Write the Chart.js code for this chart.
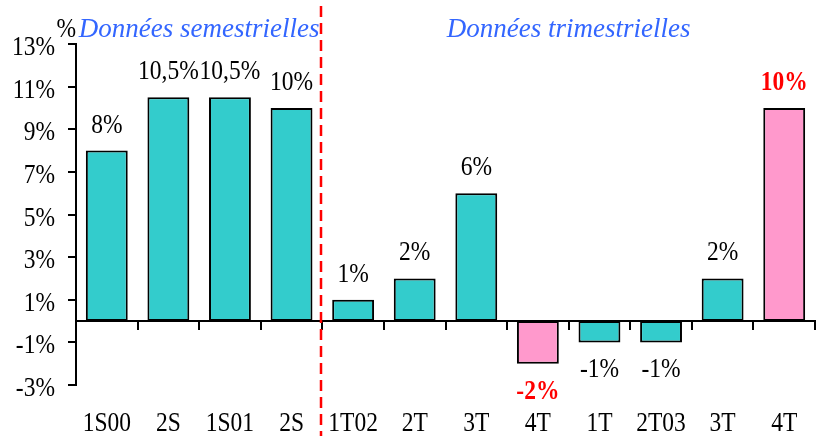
<!DOCTYPE html>
<html lang="fr">
<head>
<meta charset="UTF-8">
<title>Croissance</title>
<script src="https://cdn.jsdelivr.net/npm/chart.js"></script>
<style>
  html, body { margin: 0; padding: 0; background: #fff; }
  #wrap { width: 824px; height: 436px; }
</style>
</head>
<body>
<div id="wrap"><canvas id="chart"></canvas></div>
<script>
const categories = ['1S00', '2S', '1S01', '2S', '1T02', '2T', '3T', '4T', '1T', '2T03', '3T', '4T'];
const values = [8, 10.5, 10.5, 10, 1, 2, 6, -2, -1, -1, 2, 10];
const valueLabels = ['8%', '10,5%', '10,5%', '10%', '1%', '2%', '6%', '-2%', '-1%', '-1%', '2%', '10%'];
const yTicks = [-3, -1, 1, 3, 5, 7, 9, 11, 13];
const groupNames = ['Données semestrielles', 'Données trimestrielles'];
const groupStarts = [0, 4];   // index of first category in each group
const highlighted = [7, 11];  // bars shown in pink with red bold label

const SERIF = "'Liberation Serif', 'Times New Roman', serif";
const CYAN = '#33CCCC', PINK = '#FF99CC';

// the reference text is a bit narrow and tall, so squeeze it horizontally
function squeezed(ctx, text, x, y, font, color, align) {
  ctx.save();
  ctx.font = font;
  ctx.fillStyle = color;
  ctx.textAlign = align || 'center';
  ctx.textBaseline = 'alphabetic';
  ctx.translate(x, y);
  ctx.scale(0.87, 1);
  ctx.fillText(text, 0, 0);
  ctx.restore();
}

// zero line, separator, group titles and all texts
const overlay = {
  id: 'overlay',
  afterDatasetsDraw(chart) {
    const { ctx, chartArea: a, scales: { x, y } } = chart;
    const n = categories.length;
    const w = (a.right - a.left) / n;
    const y0 = y.getPixelForValue(0);
    const plain = '27px ' + SERIF;

    ctx.save();
    ctx.strokeStyle = '#000';
    ctx.lineWidth = 2;
    ctx.beginPath();
    ctx.moveTo(a.left, y0);
    ctx.lineTo(a.right + 1, y0);
    for (let i = 1; i <= n; i++) {
      const px = Math.round(a.left + i * w);
      ctx.moveTo(px, y0);
      ctx.lineTo(px, y0 + 9);
    }
    ctx.stroke();
    ctx.restore();

    // y tick labels
    yTicks.forEach(v => squeezed(ctx, v + '%', a.left - 21, y.getPixelForValue(v) + 11, plain, '#000', 'right'));

    // category labels
    categories.forEach((c, i) => squeezed(ctx, c, x.getPixelForValue(i), chart.height - 5, plain, '#000'));

    // value labels
    chart.getDatasetMeta(0).data.forEach((bar, i) => {
      const hi = highlighted.includes(i);
      const ty = values[i] >= 0 ? bar.y - 18 : bar.y + 35;
      squeezed(ctx, valueLabels[i], bar.x, ty, (hi ? 'bold ' : '') + plain, hi ? '#FF0000' : '#000');
    });

    // red dashed separator
    ctx.save();
    const sx = Math.round(a.left + groupStarts[1] * w) - 1;
    ctx.strokeStyle = '#FF0000';
    ctx.lineWidth = 2.5;
    ctx.setLineDash([11, 6]);
    ctx.beginPath();
    ctx.moveTo(sx, 6);
    ctx.lineTo(sx, chart.height);
    ctx.stroke();

    // group titles
    ctx.font = 'italic 27px ' + SERIF;
    ctx.fillStyle = '#3366FF';
    ctx.textAlign = 'center';
    groupNames.forEach((name, g) => {
      const from = groupStarts[g];
      const to = g + 1 < groupStarts.length ? groupStarts[g + 1] : n;
      ctx.fillText(name, a.left + (from + to) / 2 * w, 37);
    });
    ctx.restore();

    // unit
    squeezed(ctx, '%', a.left, 37, plain, '#000', 'right');
  }
};

new Chart(document.getElementById('chart'), {
  type: 'bar',
  data: {
    labels: categories,
    datasets: [{
      data: values,
      backgroundColor: values.map((v, i) => highlighted.includes(i) ? PINK : CYAN),
      borderColor: '#000',
      borderWidth: 2,
      borderSkipped: false,
      barPercentage: 0.68,
      categoryPercentage: 1
    }]
  },
  options: {
    responsive: true,
    maintainAspectRatio: false,
    animation: false,
    layout: { padding: { top: 44, right: 9, bottom: 51, left: 68 } },
    plugins: { legend: { display: false }, tooltip: { enabled: false } },
    scales: {
      x: { display: false },
      y: {
        min: -3,
        max: 13,
        afterBuildTicks: s => { s.ticks = yTicks.map(v => ({ value: v })); },
        grid: { drawOnChartArea: false, drawTicks: true, tickLength: 8, color: '#000', lineWidth: 2 },
        border: { display: true, color: '#000', width: 2 },
        ticks: { display: false }
      }
    }
  },
  plugins: [overlay]
});
</script>
</body>
</html>
